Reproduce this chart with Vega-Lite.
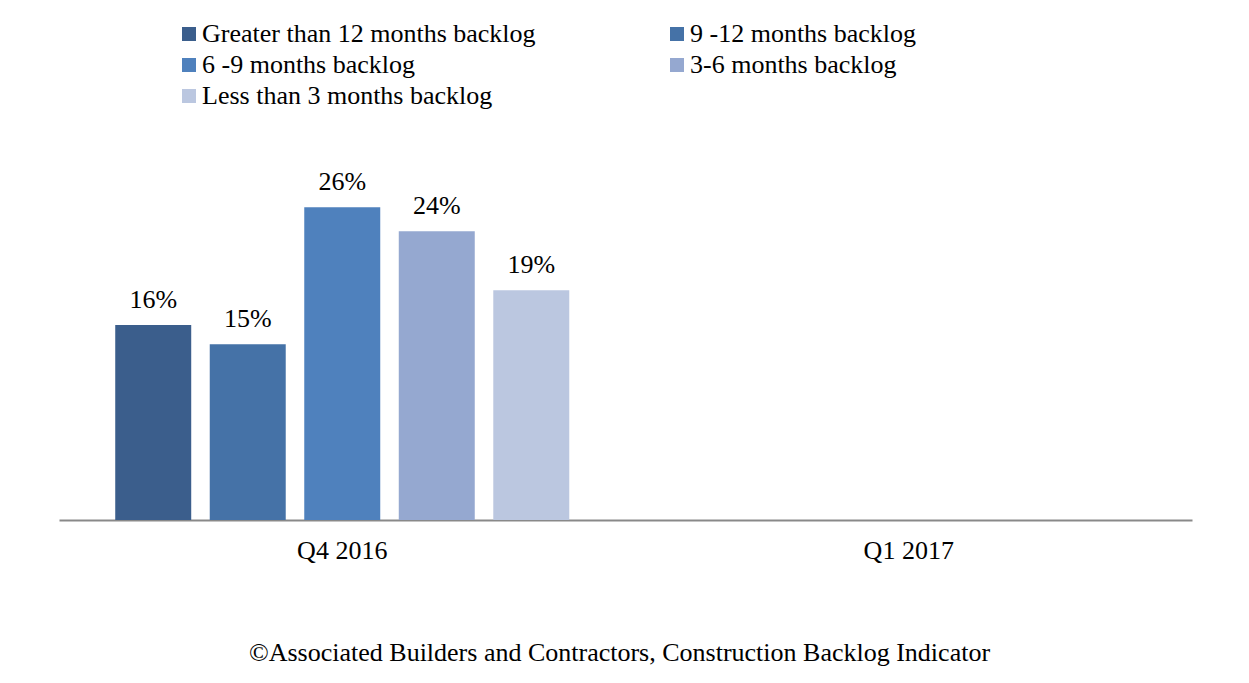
{
  "$schema": "https://vega.github.io/schema/vega-lite/v6.json",
  "width": 1133,
  "height": 361,
  "autosize": {"type": "none"},
  "padding": {"left": 59, "top": 159, "right": 57, "bottom": 163},
  "background": "white",
  "config": {"view": {"stroke": null}, "font": "Liberation Serif"},
  "data": {
    "values": [
      {"quarter": "Q4 2016", "category": "Greater than 12 months backlog", "value": 0.162},
      {"quarter": "Q4 2016", "category": "9 -12 months backlog", "value": 0.146},
      {"quarter": "Q4 2016", "category": "6 -9 months backlog", "value": 0.26},
      {"quarter": "Q4 2016", "category": "3-6 months backlog", "value": 0.24},
      {"quarter": "Q4 2016", "category": "Less than 3 months backlog", "value": 0.191}
    ]
  },
  "title": {
    "text": "©Associated Builders and Contractors, Construction Backlog Indicator",
    "orient": "bottom",
    "anchor": "middle",
    "fontSize": 26,
    "fontWeight": "normal",
    "font": "Liberation Serif",
    "color": "black",
    "offset": 77,
    "dx": -6
  },
  "encoding": {
    "x": {
      "field": "quarter",
      "type": "nominal",
      "sort": ["Q4 2016", "Q1 2017"],
      "scale": {"domain": ["Q4 2016", "Q1 2017"], "paddingInner": 0, "paddingOuter": 0},
      "axis": {
        "title": null,
        "labelAngle": 0,
        "ticks": false,
        "domainColor": "#898989",
        "domainWidth": 2,
        "labelFontSize": 26,
        "labelColor": "black",
        "labelPadding": 17,
        "labelFont": "Liberation Serif"
      }
    },
    "xOffset": {
      "field": "category",
      "type": "nominal",
      "sort": ["Greater than 12 months backlog", "9 -12 months backlog", "6 -9 months backlog", "3-6 months backlog", "Less than 3 months backlog"],
      "scale": {"paddingInner": 0.196, "paddingOuter": 0.595}
    },
    "y": {
      "field": "value",
      "type": "quantitative",
      "scale": {"domain": [0, 0.3]},
      "axis": null
    }
  },
  "layer": [
    {
      "mark": {"type": "bar"},
      "encoding": {
        "color": {
          "field": "category",
          "type": "nominal",
          "scale": {
            "domain": ["Greater than 12 months backlog", "6 -9 months backlog", "Less than 3 months backlog", "9 -12 months backlog", "3-6 months backlog"],
            "range": ["#3B5E8C", "#4F81BD", "#BBC7E0", "#4572A7", "#95A8D0"]
          },
          "legend": {
            "title": null,
            "orient": "none",
            "legendX": 117,
            "legendY": -138,
            "columns": 2,
            "columnPadding": 128,
            "rowPadding": 5,
            "symbolType": "square",
            "symbolSize": 196,
            "symbolStrokeWidth": 0,
            "labelFontSize": 26,
            "labelFont": "Liberation Serif",
            "labelColor": "black",
            "labelOffset": 0,
            "labelLimit": 500
          }
        }
      }
    },
    {
      "mark": {"type": "text", "baseline": "alphabetic", "dy": -17, "fontSize": 26, "font": "Liberation Serif", "color": "black"},
      "encoding": {
        "text": {"field": "value", "type": "quantitative", "format": ".0%"}
      }
    }
  ]
}
